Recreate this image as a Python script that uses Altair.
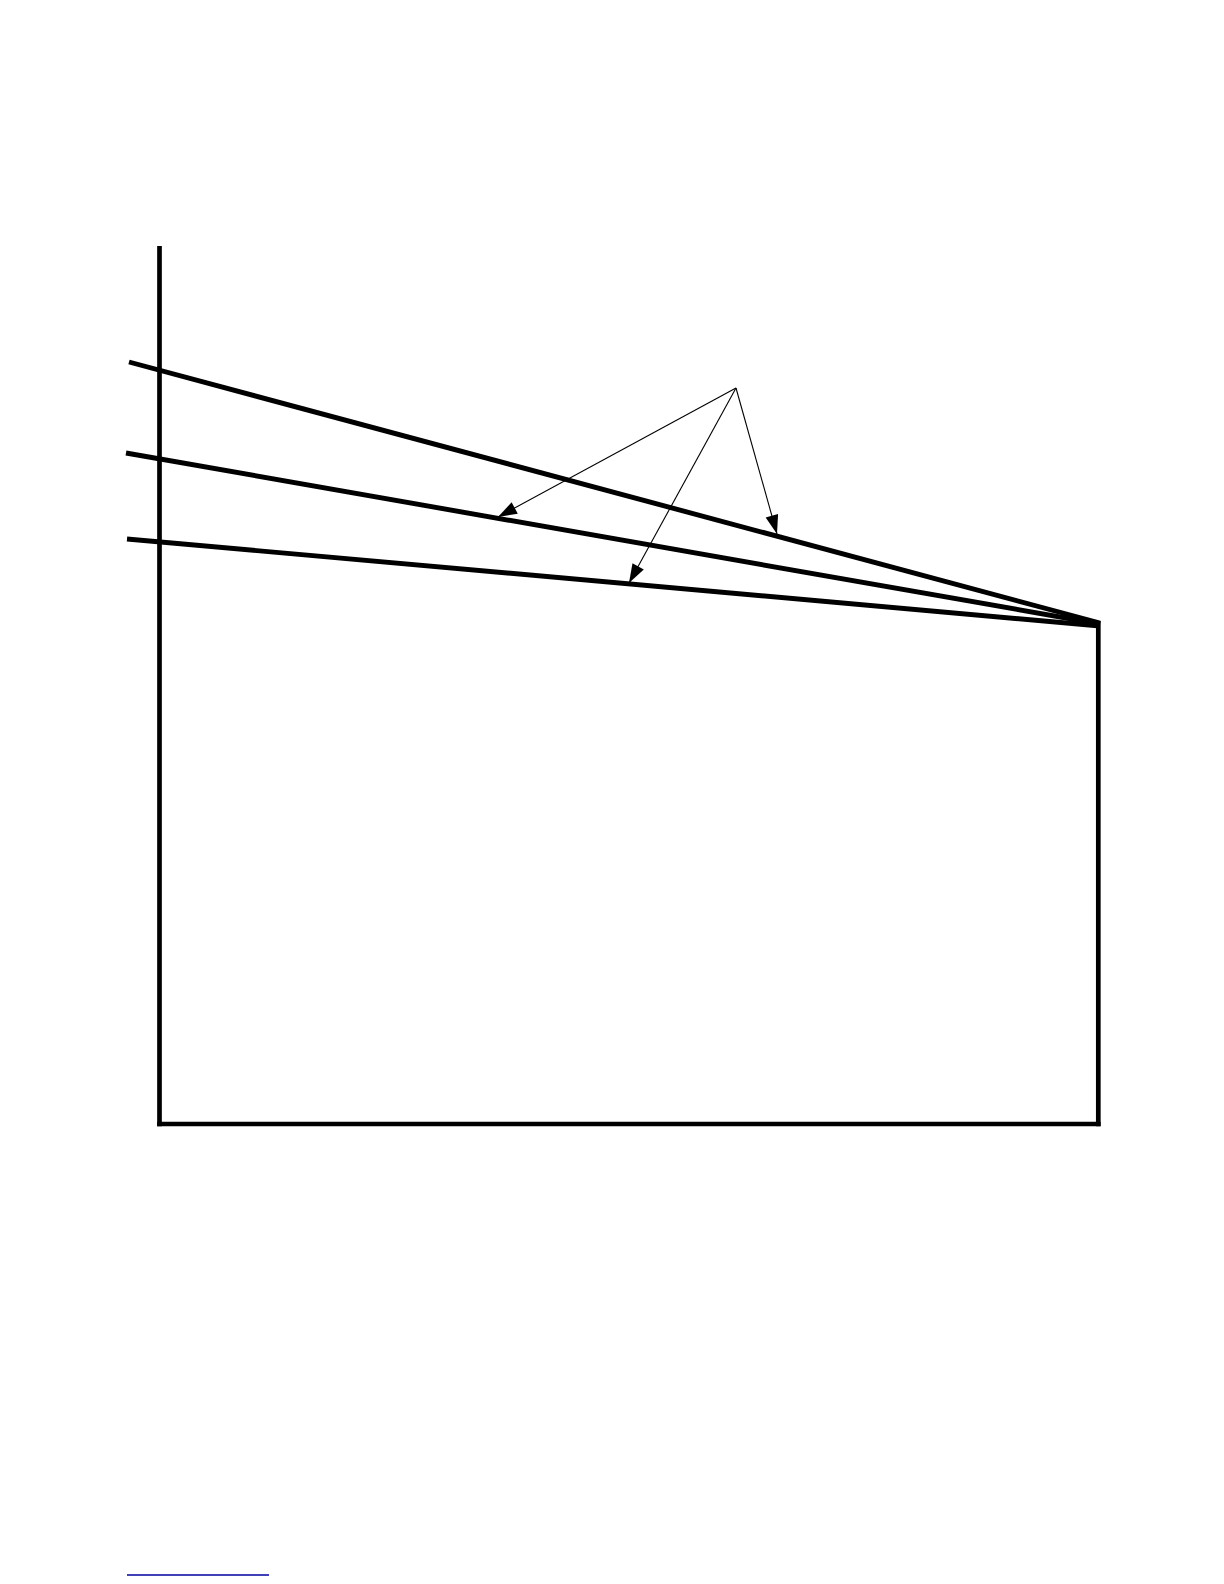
import math
import altair as alt
import pandas as pd

# Diagram coordinates (reference pixel space, y grows downward)
W, H = 1208, 1568

# Frame: left vertical axis, bottom edge, right edge
frame_x1 = [159.5, 157.2, 1098.3]
frame_y1 = [246.0, 1124.0, 621.0]
frame_x2 = [159.5, 1100.6, 1098.3]
frame_y2 = [1126.3, 1124.0, 1126.3]

# Three converging lines
line_x1 = [129.0, 126.0, 127.0]
line_y1 = [362.0, 453.0, 539.0]
line_x2 = [1100.0, 1100.0, 1100.0]
line_y2 = [623.0, 624.0, 626.0]

# Arrows from a common origin to the three lines
arrow_origin_x = 736.0
arrow_origin_y = 388.0
arrow_tip_x = [777.0, 498.0, 629.0]
arrow_tip_y = [534.0, 517.0, 583.0]

# Blue underline at the bottom-left
link_x1, link_x2, link_y = [127.0], [269.0], [1575.0]

frame_df = pd.DataFrame({"x": frame_x1, "y": frame_y1, "x2": frame_x2, "y2": frame_y2})
lines_df = pd.DataFrame({"x": line_x1, "y": line_y1, "x2": line_x2, "y2": line_y2})
shaft_df = pd.DataFrame({
    "x": [arrow_origin_x] * len(arrow_tip_x),
    "y": [arrow_origin_y] * len(arrow_tip_y),
    "x2": arrow_tip_x,
    "y2": arrow_tip_y,
})
angles = []
for tx, ty in zip(arrow_tip_x, arrow_tip_y):
    dx, dy = tx - arrow_origin_x, ty - arrow_origin_y
    angles.append(math.degrees(math.atan2(dx, -dy)) % 360)
head_df = pd.DataFrame({"x": arrow_tip_x, "y": arrow_tip_y, "ang": angles})
link_df = pd.DataFrame({"x": link_x1, "x2": link_x2, "y": link_y})

xs = alt.Scale(domain=[8, 8 + W], nice=False, zero=False)
ys = alt.Scale(domain=[8, 8 + H], nice=False, zero=False, reverse=True)

def seg(df, width, color):
    return alt.Chart(df).mark_rule(strokeWidth=width, color=color).encode(
        x=alt.X("x:Q", scale=xs, axis=None),
        y=alt.Y("y:Q", scale=ys, axis=None),
        x2="x2:Q",
        y2="y2:Q",
    )

frame = seg(frame_df, 4.7, "black")
lines = seg(lines_df, 4.9, "black")
shafts = seg(shaft_df, 1.1, "black")
heads = alt.Chart(head_df).mark_point(
    shape="M0,0L-0.34,1L0.34,1Z", filled=True, size=1444, color="black", opacity=1
).encode(
    x=alt.X("x:Q", scale=xs, axis=None),
    y=alt.Y("y:Q", scale=ys, axis=None),
    angle=alt.Angle("ang:Q", scale=None),
)
link = alt.Chart(link_df).mark_rule(strokeWidth=1.5, color="#0000a0").encode(
    x=alt.X("x:Q", scale=xs, axis=None),
    x2="x2:Q",
    y=alt.Y("y:Q", scale=ys, axis=None),
)

chart = alt.layer(frame, lines, shafts, heads, link).properties(
    width=W, height=H, padding=0, autosize="none", background="white"
).configure_view(stroke=None)

chart.save("out.html", embed_options={"renderer": "svg", "actions": False})
